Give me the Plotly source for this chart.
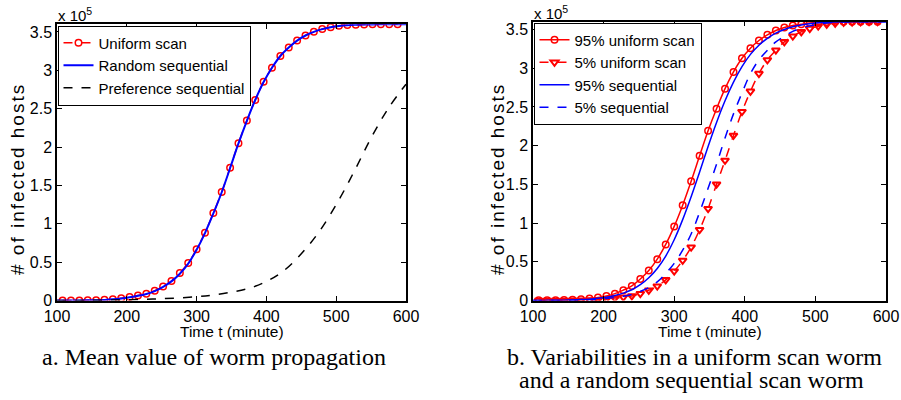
import plotly.graph_objects as go

# ---------------- data (values in units of 1e5 hosts) ----------------
T_MARK = [108, 120, 132, 144, 156, 168, 180, 192, 204, 216, 228, 240, 252, 264,
          276, 288, 300, 312, 324, 336, 348, 360, 372, 384, 396, 408, 420, 432,
          444, 456, 468, 480, 492, 504, 516, 528, 540, 552, 564, 576, 588]
T_LINE = [100] + T_MARK + [600]

# panel a
UNIFORM_SCAN = [0.000, 0.001, 0.002, 0.003, 0.006, 0.010, 0.018, 0.030, 0.047, 0.066,
                0.090, 0.128, 0.185, 0.255, 0.360, 0.490, 0.670, 0.885, 1.140, 1.415,
                1.730, 2.050, 2.345, 2.615, 2.850, 3.035, 3.188, 3.298, 3.389, 3.455,
                3.503, 3.538, 3.563, 3.580, 3.590, 3.595, 3.598, 3.600, 3.600, 3.600, 3.600]
RANDOM_SEQ = [0.000, 0.000, 0.001, 0.002, 0.003, 0.005, 0.009, 0.016, 0.027, 0.043, 0.062,
              0.087, 0.124, 0.180, 0.250, 0.350, 0.482, 0.662, 0.880, 1.135, 1.412,
              1.728, 2.048, 2.343, 2.614, 2.848, 3.034, 3.187, 3.297, 3.388, 3.454,
              3.502, 3.537, 3.562, 3.579, 3.589, 3.594, 3.597, 3.599, 3.600, 3.600, 3.600, 3.600]
PREF_T = [100, 150, 200, 250, 300, 325, 350, 375, 400, 425, 450, 475, 500, 525, 550, 575, 600]
PREF_SEQ = [0.000, 0.003, 0.010, 0.025, 0.050, 0.075, 0.110, 0.160, 0.250, 0.390, 0.610,
            0.890, 1.250, 1.670, 2.120, 2.510, 2.820]

# panel b
UNI_95 = [0.003, 0.004, 0.006, 0.008, 0.012, 0.017, 0.026, 0.040, 0.060, 0.090,
          0.135, 0.190, 0.278, 0.388, 0.535, 0.725, 0.958, 1.232, 1.540, 1.869,
          2.193, 2.477, 2.736, 2.952, 3.128, 3.258, 3.357, 3.430, 3.486, 3.525,
          3.551, 3.568, 3.583, 3.591, 3.596, 3.598, 3.600, 3.600, 3.600, 3.600, 3.600]
UNI_5 = [0.000, 0.000, 0.001, 0.002, 0.004, 0.005, 0.008, 0.012, 0.020, 0.032,
         0.044, 0.060, 0.090, 0.133, 0.186, 0.268, 0.380, 0.518, 0.690, 0.915,
         1.186, 1.503, 1.809, 2.132, 2.439, 2.701, 2.930, 3.107, 3.232, 3.340,
         3.413, 3.470, 3.512, 3.542, 3.565, 3.580, 3.590, 3.595, 3.598, 3.600, 3.600]
SEQ_95 = [0.001, 0.002, 0.003, 0.004, 0.006, 0.009, 0.013, 0.019, 0.029, 0.043, 0.065,
          0.097, 0.140, 0.205, 0.295, 0.415, 0.575, 0.785, 1.045, 1.340, 1.660,
          1.990, 2.300, 2.580, 2.820, 3.020, 3.178, 3.296, 3.386, 3.452, 3.500,
          3.535, 3.557, 3.574, 3.586, 3.593, 3.597, 3.600, 3.600, 3.600, 3.600, 3.600, 3.600]
SEQ_5 = [0.000, 0.000, 0.001, 0.002, 0.003, 0.005, 0.007, 0.011, 0.017, 0.028, 0.040,
         0.055, 0.080, 0.119, 0.168, 0.241, 0.350, 0.480, 0.650, 0.860, 1.140,
         1.450, 1.760, 2.100, 2.410, 2.680, 2.930, 3.107, 3.232, 3.340, 3.413,
         3.475, 3.517, 3.546, 3.568, 3.582, 3.591, 3.596, 3.599, 3.600, 3.600, 3.600, 3.600]

X_TICKS = [100, 200, 300, 400, 500, 600]
Y_TICKS = [0, 0.5, 1, 1.5, 2, 2.5, 3, 3.5]
Y_TICK_TEXT = ["0", "0.5", "1", "1.5", "2", "2.5", "3", "3.5"]

# ---------------- figure ----------------
W, H = 901, 400
RED, BLUE = "#ff0000", "#0000ff"
SANS = "Liberation Sans, Arial, sans-serif"
SERIF = "Liberation Serif, Times New Roman, serif"

def px(x):
    return x / W

def py(y):
    return 1 - y / H

fig = go.Figure()

# panel a traces
fig.add_trace(go.Scatter(x=T_MARK, y=UNIFORM_SCAN, name="Uniform scan", mode="lines+markers",
                         line=dict(color=RED, width=1.5, dash="dash", shape="spline"),
                         marker=dict(symbol="circle-open", size=6.5, color=RED, line=dict(width=1.5)),
                         xaxis="x", yaxis="y", legend="legend"))
fig.add_trace(go.Scatter(x=T_LINE, y=RANDOM_SEQ, name="Random sequential", mode="lines",
                         line=dict(color=BLUE, width=2, shape="spline"),
                         xaxis="x", yaxis="y", legend="legend"))
fig.add_trace(go.Scatter(x=PREF_T, y=PREF_SEQ, name="Preference sequential", mode="lines",
                         line=dict(color="black", width=1.5, dash="dash", shape="spline"),
                         xaxis="x", yaxis="y", legend="legend"))

# panel b traces
fig.add_trace(go.Scatter(x=T_MARK, y=UNI_95, name="95% uniform scan", mode="lines+markers",
                         line=dict(color=RED, width=1.5, shape="spline"),
                         marker=dict(symbol="circle-open", size=6.5, color=RED, line=dict(width=1.5)),
                         xaxis="x2", yaxis="y2", legend="legend2"))
fig.add_trace(go.Scatter(x=T_MARK, y=UNI_5, name="5% uniform scan", mode="lines+markers",
                         line=dict(color=RED, width=1.5, dash="dash", shape="spline"),
                         marker=dict(symbol="triangle-down-open", size=7, color=RED, line=dict(width=2)),
                         xaxis="x2", yaxis="y2", legend="legend2"))
fig.add_trace(go.Scatter(x=T_LINE, y=SEQ_95, name="95% sequential", mode="lines",
                         line=dict(color=BLUE, width=1.5, shape="spline"),
                         xaxis="x2", yaxis="y2", legend="legend2"))
fig.add_trace(go.Scatter(x=T_LINE, y=SEQ_5, name="5% sequential", mode="lines",
                         line=dict(color=BLUE, width=1.5, dash="dash", shape="spline"),
                         xaxis="x2", yaxis="y2", legend="legend2"))

axis_common = dict(showline=True, linecolor="black", linewidth=1.5, mirror="ticks",
                   ticks="inside", ticklen=5, tickwidth=1, tickcolor="black",
                   showgrid=False, zeroline=False, automargin=False,
                   tickfont=dict(family=SANS, size=16, color="black"))

fig.update_layout(
    template="none",
    width=W, height=H,
    margin=dict(l=0, r=0, t=0, b=0, autoexpand=False),
    paper_bgcolor="white", plot_bgcolor="white",
    showlegend=True,
    xaxis=dict(domain=[px(57), px(406)], range=[100, 600], tickvals=X_TICKS, anchor="y", **axis_common),
    yaxis=dict(domain=[py(300.6), py(24.3)], range=[0, 3.6], tickvals=Y_TICKS, ticktext=Y_TICK_TEXT,
               anchor="x", **axis_common),
    xaxis2=dict(domain=[px(533), px(886)], range=[100, 600], tickvals=X_TICKS, anchor="y2", **axis_common),
    yaxis2=dict(domain=[py(300.6), py(21.7)], range=[0, 3.6], tickvals=Y_TICKS, ticktext=Y_TICK_TEXT,
                anchor="x2", **axis_common),
    legend=dict(x=px(57.5), y=py(25.5), xanchor="left", yanchor="top",
                bgcolor="white", bordercolor="black", borderwidth=1,
                font=dict(family=SANS, size=15, color="black"), tracegroupgap=0),
    legend2=dict(x=px(533.5), y=py(22.5), xanchor="left", yanchor="top",
                 bgcolor="white", bordercolor="black", borderwidth=1,
                 font=dict(family=SANS, size=15, color="black"), tracegroupgap=0),
)

ann = []
# exponent labels
ann.append(dict(text="x 10<sup>5</sup>", x=px(56), y=py(14), xref="paper", yref="paper",
                xanchor="left", yanchor="middle", showarrow=False,
                font=dict(family=SANS, size=15, color="black")))
ann.append(dict(text="x 10<sup>5</sup>", x=px(532), y=py(12), xref="paper", yref="paper",
                xanchor="left", yanchor="middle", showarrow=False,
                font=dict(family=SANS, size=15, color="black")))
# axis titles
for cx in (231.5, 709.5):
    ann.append(dict(text="Time t (minute)", x=px(cx), y=py(331), xref="paper", yref="paper",
                    xanchor="center", yanchor="middle", showarrow=False,
                    font=dict(family=SANS, size=15.5, color="black")))
for cx in (17, 497):
    ann.append(dict(text="<span style='letter-spacing:2px'># of infected hosts</span>",
                    x=px(cx), y=py(179), xref="paper", yref="paper",
                    xanchor="center", yanchor="middle", showarrow=False, textangle=-90,
                    font=dict(family=SANS, size=19, color="black")))
# captions
ann.append(dict(text="a. Mean value of worm propagation", x=px(214), y=py(357), xref="paper",
                yref="paper", xanchor="center", yanchor="middle", showarrow=False,
                font=dict(family=SERIF, size=24, color="black")))
ann.append(dict(text="b. Variabilities in a uniform scan worm", x=px(694), y=py(357), xref="paper",
                yref="paper", xanchor="center", yanchor="middle", showarrow=False,
                font=dict(family=SERIF, size=24, color="black")))
ann.append(dict(text="and a random sequential scan worm", x=px(691), y=py(380), xref="paper",
                yref="paper", xanchor="center", yanchor="middle", showarrow=False,
                font=dict(family=SERIF, size=24, color="black")))
fig.update_layout(annotations=ann)

fig.write_html("out.html", config={"displayModeBar": False},
               post_script="document.body.style.margin='0';document.body.style.padding='0';")
